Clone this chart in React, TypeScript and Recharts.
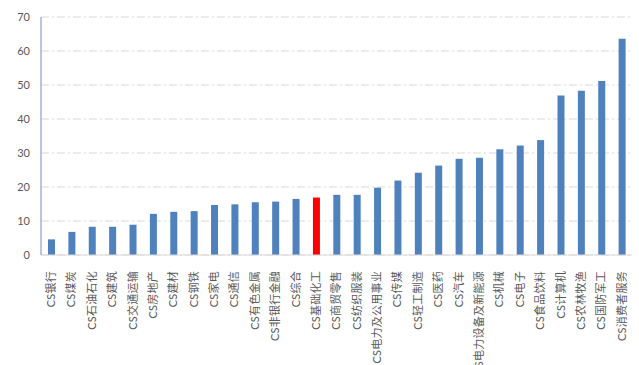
import { Bar, BarChart, CartesianGrid, Cell, XAxis, YAxis } from "recharts";

const industries = [
  "CS银行", "CS煤炭", "CS石油石化", "CS建筑", "CS交通运输", "CS房地产", "CS建材", "CS钢铁",
  "CS家电", "CS通信", "CS有色金属", "CS非银行金融", "CS综合", "CS基础化工", "CS商贸零售",
  "CS纺织服装", "CS电力及公用事业", "CS传媒", "CS轻工制造", "CS医药", "CS汽车",
  "CS电力设备及新能源", "CS机械", "CS电子", "CS食品饮料", "CS计算机", "CS农林牧渔",
  "CS国防军工", "CS消费者服务",
];
const values = [
  4.6, 6.8, 8.3, 8.3, 8.9, 12.1, 12.7, 12.9, 14.7, 14.9, 15.5, 15.7, 16.5, 16.9, 17.7,
  17.7, 19.8, 21.9, 24.2, 26.3, 28.3, 28.6, 31.1, 32.2, 33.8, 46.9, 48.3, 51.2, 63.6,
];
const highlight = "CS基础化工";
const yTicks = [0, 10, 20, 30, 40, 50, 60, 70];

const data = industries.map((name, i) => ({ name, value: values[i] }));

const FONT = "Lato, 'Noto Sans CJK SC', sans-serif";

function XTick({ x, y, payload }: any) {
  return (
    <g transform={`translate(${x},${y})`}>
      <text
        transform="rotate(-90)"
        x={-8}
        dy="0.35em"
        textAnchor="end"
        fontSize={11}
        letterSpacing={0.25}
        fill="#595959"
        fontFamily={FONT}
      >
        {payload.value}
      </text>
    </g>
  );
}

export default function App() {
  return (
    <div style={{ position: "absolute", left: 0, top: 0, background: "#fff" }}>
      <BarChart
        width={639}
        height={365}
        data={data}
        margin={{ top: 17, right: 7, left: 0, bottom: 0 }}
      >
        <CartesianGrid
          vertical={false}
          stroke="#d9d9d9"
          strokeDasharray="8 3 2 3"
        />
        <XAxis
          dataKey="name"
          interval={0}
          height={110}
          tickLine={false}
          axisLine={{ stroke: "#d9d9d9" }}
          tick={<XTick />}
        />
        <YAxis
          width={41}
          domain={[0, 70]}
          ticks={yTicks}
          tickLine={false}
          tickMargin={5}
          axisLine={{ stroke: "#9fb5d8", strokeWidth: 1.5 }}
          tick={{ fontSize: 11, fill: "#595959", fontFamily: FONT }}
        />
        <Bar dataKey="value" barSize={7} isAnimationActive={false}>
          {data.map((d) => (
            <Cell key={d.name} fill={d.name === highlight ? "#ff0000" : "#4f81bd"} />
          ))}
        </Bar>
      </BarChart>
    </div>
  );
}
